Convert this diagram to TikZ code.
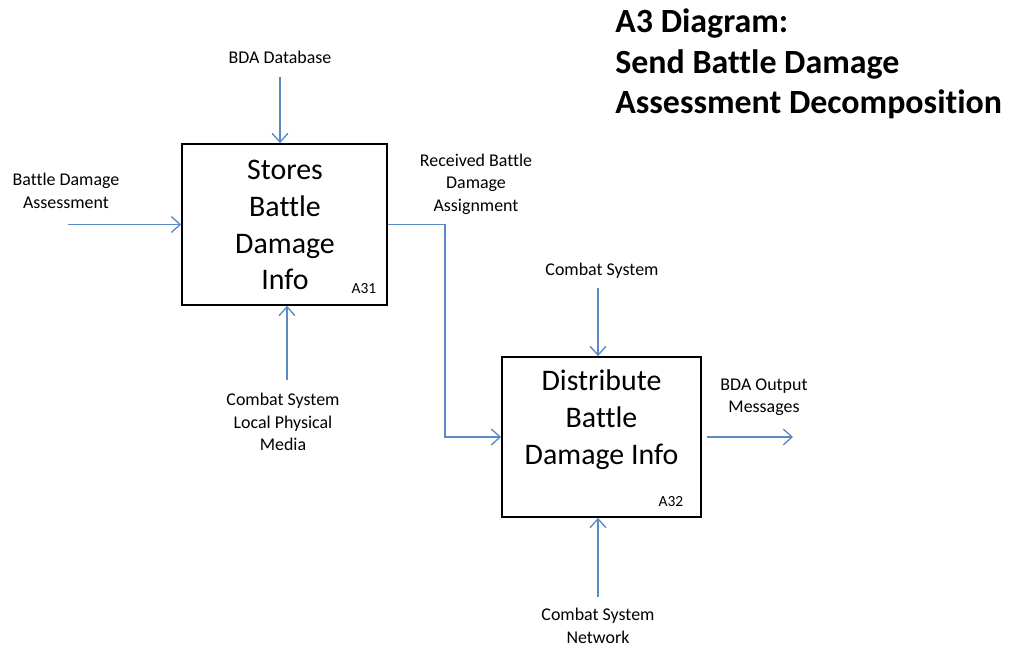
\documentclass[tikz,border=0pt]{standalone}
\usepackage{fontspec}
\setmainfont{Carlito}[Ligatures=NoCommon]
\usetikzlibrary{arrows.meta,positioning}
\definecolor{flowblue}{RGB}{91,137,196}
\tikzset{
	procbox/.style={draw=black, line width=1pt, inner sep=0pt},
	boxtext/.style={align=center, font=\fontsize{17}{21}\selectfont},
	tag/.style={font=\fontsize{8.8}{10}\selectfont, inner sep=0pt},
	flowlabel/.style={align=center, font=\fontsize{10.2}{12.8}\selectfont, inner sep=0pt},
	flow/.style={draw=flowblue, line width=0.75pt, -{Straight Barb[length=5pt,width=9pt]}},
	heading/.style={align=left, font=\fontsize{19.3}{23.2}\selectfont\bfseries, inner sep=0pt}
}

\begin{document}
\begin{tikzpicture}[x=0.02cm, y=-0.02cm]
				\useasboundingbox (0,0) rectangle (1010,648);
				
				\node[heading, anchor=west] (title) at (615,64) {A3 Diagram:\\Send Battle Damage\\Assessment Decomposition};
				
				\node[procbox, minimum width=4.1cm, minimum height=3.22cm] (a31) at (284.5,224.5) {};
				\node[boxtext] (a31text) at (285,225) {Stores\\Battle\\Damage\\Info};
				\node[tag] (a31tag) at (364,289) {A31};
				
				\node[procbox, minimum width=3.98cm, minimum height=3.2cm] (a32) at (601.5,437) {};
				\node[boxtext] (a32text) at (601.5,419.5) {Distribute\\Battle\\Damage Info};
				\node[tag] (a32tag) at (671,502) {A32};
				
				\node[flowlabel] (bdadb) at (280,57) {BDA Database};
				\coordinate (bdadbin) at (280,77);
				\draw[flow] (bdadbin) -- (bdadbin |- a31.north);
				
				\node[flowlabel] (assess) at (66,191) {Battle Damage\\Assessment};
				\coordinate (assessin) at (68,224.5);
				\draw[flow] (assessin) -- (a31.west);
				
				\node[flowlabel] (media) at (283,422) {Combat System\\Local Physical\\Media};
				\coordinate (mediain) at (287,380);
				\draw[flow] (mediain) -- (mediain |- a31.south);
				
				\node[flowlabel] (received) at (476,184) {Received Battle\\Damage\\Assignment};
				\coordinate (turn) at (445,437);
				\draw[flow] (a31.east) -| (turn) -- (a32.west);
				
				\node[flowlabel] (combat) at (602,271) {Combat System};
				\coordinate (combatin) at (598,288);
				\draw[flow] (combatin) -- (combatin |- a32.north);
				
				\node[flowlabel] (output) at (764,397) {BDA Output\\Messages};
				\coordinate (outstart) at (707,437);
				\coordinate (outend) at (793,437);
				\draw[flow] (outstart) -- (outend);
				
				\node[flowlabel] (network) at (598,626) {Combat System\\Network};
				\coordinate (networkin) at (598,597);
				\draw[flow] (networkin) -- (networkin |- a32.south);
			\end{tikzpicture}
\end{document}
